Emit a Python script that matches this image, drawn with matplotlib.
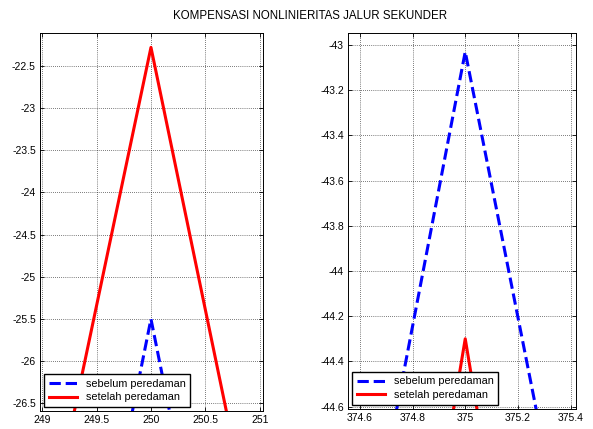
import numpy as np
import matplotlib
matplotlib.use("Agg")
import matplotlib.pyplot as plt

# -------------------------------
# Data
# -------------------------------
freq_left = [249, 250, 251]
sebelum_left = [-31.9, -25.5, -31.9]
setelah_left = [-28.4, -22.28, -28.5]

freq_right = [374, 375, 376]
sebelum_right = [-49.1, -43.03, -48.9]
setelah_right = [-51.3, -44.3, -51.3]

xticks_left = [249, 249.5, 250, 250.5, 251]
yticks_left = [-22.5, -23, -23.5, -24, -24.5, -25, -25.5, -26, -26.5]
xticks_right = [374.6, 374.8, 375, 375.2, 375.4]
yticks_right = [-43, -43.2, -43.4, -43.6, -43.8, -44, -44.2, -44.4, -44.6]

title = "KOMPENSASI NONLINIERITAS JALUR SEKUNDER"
labels = ["sebelum peredaman", "setelah peredaman"]

plt.rcParams['font.family'] = ['Liberation Sans', 'DejaVu Sans']

fig = plt.figure(figsize=(5.93, 4.29), dpi=100)
ax1 = fig.add_axes([0.0675, 0.042, 0.376, 0.881])
ax2 = fig.add_axes([0.587, 0.047, 0.384, 0.876])


def style_axes(ax, xlim, ylim, xticks, yticks):
    ax.set_xlim(*xlim)
    ax.set_ylim(*ylim)
    ax.set_xticks(xticks)
    ax.set_yticks(yticks)
    ax.set_xticklabels([f"{v:g}" for v in xticks])
    ax.set_yticklabels([f"{v:g}" for v in yticks])
    ax.tick_params(direction="in", top=True, right=True, labelsize=7.5,
                   length=3, width=0.6, pad=3)
    ax.grid(True, color="black", linestyle=(0, (1, 2)), linewidth=0.5)
    for sp in ax.spines.values():
        sp.set_linewidth(0.7)
    ax.legend(loc="lower left", fontsize=7.8, fancybox=False, framealpha=1,
              edgecolor="black", borderpad=0.45, handlelength=2.6,
              labelspacing=0.35, borderaxespad=0.35)


# -------------------------------
# Left panel
# -------------------------------
ax1.plot(freq_left, sebelum_left, color="#0000ff", linestyle="--",
         linewidth=2.2, label=labels[0])
ax1.plot(freq_left, setelah_left, color="#ff0000", linestyle="-",
         linewidth=2.2, label=labels[1])
style_axes(ax1, (248.98, 251.03), (-26.59, -22.11), xticks_left, yticks_left)

# -------------------------------
# Right panel
# -------------------------------
ax2.plot(freq_right, sebelum_right, color="#0000ff", linestyle="--",
         linewidth=2.2, label=labels[0])
ax2.plot(freq_right, setelah_right, color="#ff0000", linestyle="-",
         linewidth=2.2, label=labels[1])
style_axes(ax2, (374.555, 375.42), (-44.61, -42.947), xticks_right, yticks_right)

fig.text(0.523, 0.963, title, ha="center", va="center", fontsize=8.3)

fig.savefig("out.png", dpi=100)
